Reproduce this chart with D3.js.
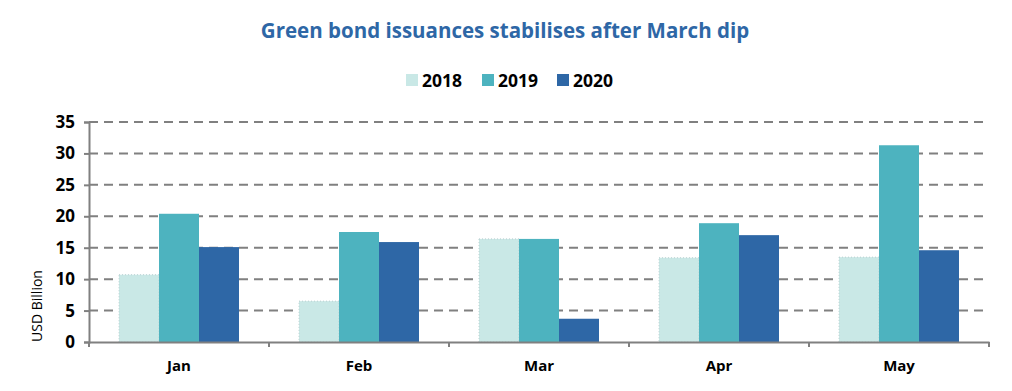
<!DOCTYPE html>
<html>
<head>
<meta charset="utf-8">
<script src="https://cdn.jsdelivr.net/npm/d3@7"></script>
<style>
  body { margin: 0; background: #fff; }
  svg text { font-family: "Open Sans", "Noto Sans", sans-serif; }
</style>
</head>
<body>
<svg id="chart" width="1012" height="391"></svg>
<script>
// data
const months = ["Jan", "Feb", "Mar", "Apr", "May"];
const years = ["2018", "2019", "2020"];
const values2018 = [10.7, 6.5, 16.4, 13.4, 13.5];
const values2019 = [20.4, 17.5, 16.4, 18.9, 31.3];
const values2020 = [15.1, 15.9, 3.7, 17.0, 14.6];
const yTicks = [0, 5, 10, 15, 20, 25, 30, 35];
const colors = ["#c9e8e6", "#4db3bf", "#2e67a6"];

const series = [values2018, values2019, values2020];
const svg = d3.select("#chart");
const margin = {left: 89, right: 23, top: 122, bottom: 49};
const W = 1012, H = 391;

let x = d3.scaleBand().domain(months).range([margin.left, W - margin.right]).paddingInner(0).paddingOuter(0);
let xi = d3.scaleBand().domain(years).range([30, x.bandwidth() - 30]);
let y = d3.scaleLinear().domain([0, 35]).range([H - margin.bottom, margin.top]);

// title
svg.append("text").attr("x", 505).attr("y", 38).attr("text-anchor", "middle")
    .attr("font-size", 20.5).attr("font-weight", "bold").attr("fill", "#2e67a6")
    .text("Green bond issuances stabilises after March dip");

// legend
let legend = svg.append("g").attr("transform", "translate(406,80)");
let lx = [0, 76, 151];
years.forEach((yr, i) => {
    let g = legend.append("g").attr("transform", "translate(" + lx[i] + ",0)");
    g.append("rect").attr("x", 0).attr("y", -6).attr("width", 12).attr("height", 12).attr("fill", colors[i]);
    g.append("text").attr("x", 16).attr("y", 6.5).attr("font-size", 17.5).attr("font-weight", "bold")
        .attr("fill", "#000").text(yr);
});

// gridlines
svg.append("g").selectAll("line").data(yTicks.slice(1)).enter().append("line")
    .attr("x1", margin.left).attr("x2", W - margin.right)
    .attr("y1", d => y(d)).attr("y2", d => y(d))
    .attr("stroke", "#808080").attr("stroke-width", 2).attr("stroke-dasharray", "9,6");

// bars
let groups = svg.append("g").selectAll("g").data(months).enter().append("g")
    .attr("transform", d => "translate(" + x(d) + ",0)");
groups.selectAll("rect").data((m, mi) => years.map((yr, i) => ({yr: yr, i: i, v: series[i][mi]})))
    .enter().append("rect")
    .attr("x", d => xi(d.yr)).attr("width", xi.bandwidth())
    .attr("y", d => y(d.v)).attr("height", d => y(0) - y(d.v))
    .attr("fill", d => colors[d.i])
    .attr("stroke", d => d.i === 0 ? "#b8cfd0" : "none")
    .attr("stroke-dasharray", "1,2");

// y axis
let yAxis = svg.append("g").attr("transform", "translate(" + margin.left + ",0)")
    .call(d3.axisLeft(y).tickValues(yTicks).tickSize(5).tickPadding(9));
yAxis.select(".domain").attr("stroke", "#808080").attr("stroke-width", 2);
yAxis.selectAll(".tick line").attr("stroke", "#808080").attr("stroke-width", 2);
yAxis.selectAll("text").attr("font-size", 17).attr("font-weight", "bold").attr("fill", "#000")
    .attr("font-family", "Open Sans");

// x axis
let xAxis = svg.append("g").attr("transform", "translate(0," + y(0) + ")")
    .call(d3.axisBottom(x).tickSize(0).tickPadding(18));
xAxis.select(".domain").attr("stroke", "#808080").attr("stroke-width", 2);
xAxis.selectAll("text").attr("font-size", 15).attr("font-weight", "bold").attr("fill", "#000")
    .attr("font-family", "Open Sans");
let bounds = months.map(m => x(m)).concat([x(months[months.length - 1]) + x.bandwidth()]);
xAxis.selectAll(".bound").data(bounds).enter().append("line").attr("class", "bound")
    .attr("x1", d => d).attr("x2", d => d).attr("y1", 0).attr("y2", 5)
    .attr("stroke", "#808080").attr("stroke-width", 2);

// y axis title
svg.append("text").attr("transform", "translate(42,306) rotate(-90)").attr("text-anchor", "middle")
    .attr("font-size", 14).attr("fill", "#000").text("USD Billion");
</script>
</body>
</html>
